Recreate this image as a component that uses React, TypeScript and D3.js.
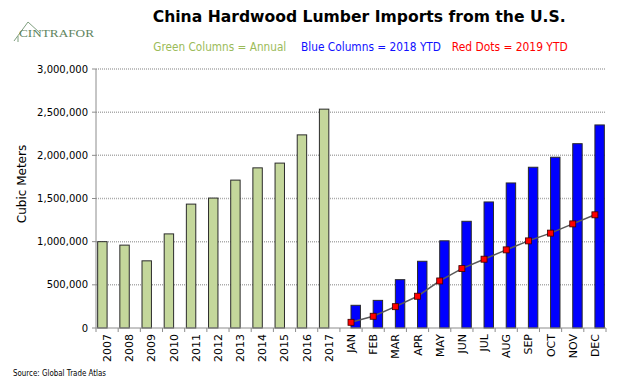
import React from "react";
import * as d3 from "d3";

const years = ["2007", "2008", "2009", "2010", "2011", "2012", "2013", "2014", "2015", "2016", "2017"];
const months = ["JAN", "FEB", "MAR", "APR", "MAY", "JUN", "JUL", "AUG", "SEP", "OCT", "NOV", "DEC"];
const annualValues = [1000000, 960000, 778000, 1090000, 1435000, 1505000, 1713000, 1855000, 1910000, 2237000, 2535000];
const ytd2018 = [263000, 320000, 560000, 773000, 1010000, 1236000, 1460000, 1680000, 1862000, 1978000, 2135000, 2352000];
const ytd2019 = [66000, 136000, 247000, 368000, 545000, 688000, 797000, 905000, 1009000, 1099000, 1206000, 1311000];
const yTicks = [0, 500000, 1000000, 1500000, 2000000, 2500000, 3000000];

const W = 640;
const H = 380;
const font = "'DejaVu Sans', Verdana, sans-serif";

export default function App() {
  const categories = [...years, ...months];
  const x = d3.scaleBand<string>().domain(categories).range([96, 606]).paddingInner(0).paddingOuter(0);
  const y = d3.scaleLinear().domain([0, 3000000]).range([328, 69]);
  const bw = x.bandwidth();
  const barW = bw * 0.425;
  const cx = (c: string) => (x(c) as number) + bw / 2;
  const fmt = d3.format(",");

  const line = d3
    .line<number>()
    .x((_, i) => cx(months[i]))
    .y((d) => y(d));

  const boundaries = d3.range(categories.length + 1).map((i) => 96 + i * bw);

  return (
    <svg width={W} height={H} style={{ position: "absolute", left: 0, top: 0, background: "#fff" }}>
      {/* logo */}
      <g>
        <path d="M14,41 L28,22 L40,33" fill="none" stroke="#7f9f7f" strokeWidth={1} />
        <path d="M18,36 L18,42" fill="none" stroke="#7f9f7f" strokeWidth={1} />
        <text x={19} y={37} fontFamily="'Liberation Serif', 'DejaVu Serif', serif" fontSize={9.5} fill="#5f855f" textLength={75} lengthAdjust="spacingAndGlyphs">
          CINTRAFOR
        </text>
      </g>

      {/* title */}
      <text x={152.7} y={22} fontFamily={font} fontWeight="bold" fontSize={16} fill="#000" textLength={413} lengthAdjust="spacingAndGlyphs">
        China Hardwood Lumber Imports from the U.S.
      </text>

      {/* legend texts */}
      <text x={153.3} y={50.5} fontFamily={font} fontSize={12} fill="#9BBB59" textLength={133} lengthAdjust="spacingAndGlyphs">
        Green Columns = Annual
      </text>
      <text x={301} y={50.5} fontFamily={font} fontSize={12} fill="#1010FF" textLength={140} lengthAdjust="spacingAndGlyphs">
        Blue Columns = 2018 YTD
      </text>
      <text x={451.7} y={50.5} fontFamily={font} fontSize={12} fill="#FF0000" textLength={116} lengthAdjust="spacingAndGlyphs">
        Red Dots = 2019 YTD
      </text>

      {/* gridlines */}
      {yTicks.filter((t) => t > 0).map((t) => (
        <line key={"g" + t} x1={96} x2={606} y1={y(t)} y2={y(t)} stroke="#ababab" strokeWidth={1.5} strokeDasharray="1 1" />
      ))}

      {/* y axis */}
      <line x1={96} x2={96} y1={y(3000000)} y2={y(0)} stroke="#8c8c8c" strokeWidth={1} />
      {yTicks.map((t) => (
        <g key={"yt" + t}>
          <line x1={92} x2={96} y1={y(t)} y2={y(t)} stroke="#8c8c8c" strokeWidth={1} />
          <text x={88} y={y(t)} dy="0.35em" textAnchor="end" fontFamily={font} fontSize={10} fill="#000">
            {fmt(t)}
          </text>
        </g>
      ))}
      <text transform={`translate(26,184) rotate(-90)`} textAnchor="middle" fontFamily={font} fontSize={12} fill="#000">
        Cubic Meters
      </text>

      {/* green bars */}
      {years.map((c, i) => (
        <rect key={"gb" + c} x={cx(c) - barW} y={y(annualValues[i])} width={barW} height={y(0) - y(annualValues[i])} fill="#C4D79B" stroke="#2b2b2b" strokeWidth={1} />
      ))}

      {/* blue bars */}
      {months.map((c, i) => (
        <rect key={"bb" + c} x={cx(c)} y={y(ytd2018[i])} width={barW} height={y(0) - y(ytd2018[i])} fill="#0000FF" stroke="#2b2b2b" strokeWidth={1} />
      ))}

      {/* x axis */}
      <line x1={96} x2={606} y1={y(0)} y2={y(0)} stroke="#8c8c8c" strokeWidth={1} />
      {boundaries.map((b, i) => (
        <line key={"xt" + i} x1={b} x2={b} y1={328} y2={332} stroke="#8c8c8c" strokeWidth={1} />
      ))}
      {categories.map((c) => (
        <text key={"xl" + c} transform={`translate(${cx(c) + 4},334) rotate(-90)`} textAnchor="end" fontFamily={font} fontSize={11} fill="#000">
          {c}
        </text>
      ))}

      {/* red line + markers */}
      <path d={line(ytd2019) as string} fill="none" stroke="#595959" strokeWidth={1.5} />
      {months.map((c, i) => (
        <rect key={"rd" + c} x={cx(c) - 3} y={y(ytd2019[i]) - 3} width={6} height={6} fill="#FF0000" stroke="#3a0000" strokeWidth={0.8} />
      ))}

      {/* source */}
      <text x={13} y={375.5} fontFamily={font} fontSize={8} fill="#000" textLength={93} lengthAdjust="spacingAndGlyphs">
        Source: Global Trade Atlas
      </text>
    </svg>
  );
}
